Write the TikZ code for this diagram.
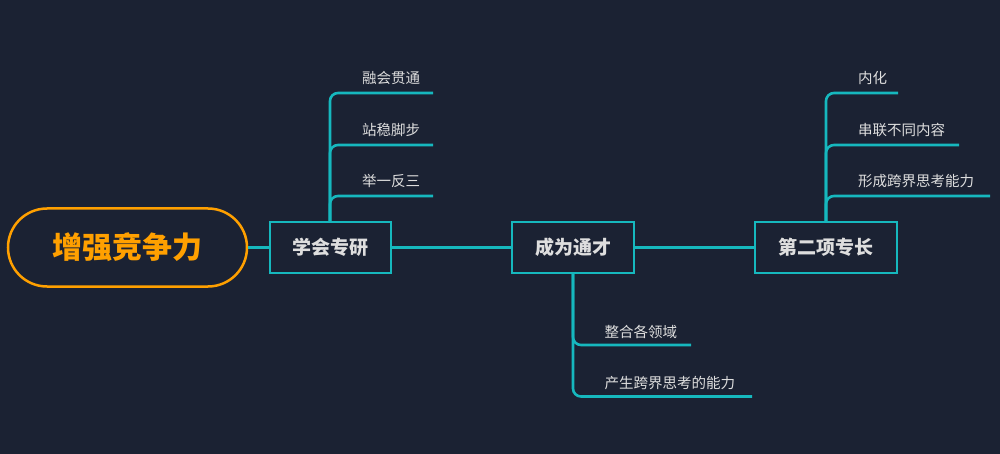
\documentclass[tikz,border=0pt]{standalone}
\usepackage{fontspec}
\newfontfamily\cjk{Noto Sans CJK SC}
\definecolor{bg}{RGB}{27,34,51}
\definecolor{teal}{RGB}{22,184,190}
\definecolor{orng}{RGB}{255,160,0}
\definecolor{txt}{RGB}{222,222,222}
\tikzset{
  root/.style={draw=orng, line width=2.5pt, rounded corners=39pt, minimum width=239pt, minimum height=78pt, text=orng, font=\cjk\fontsize{30}{30}\selectfont\bfseries, inner sep=0pt},
  topic/.style={draw=teal, line width=2pt, minimum height=51pt, text=txt, font=\cjk\fontsize{19}{19}\selectfont\bfseries, inner sep=0pt},
  leaf/.style={text=txt, font=\cjk\fontsize{14.5}{14.5}\selectfont, inner sep=0pt, anchor=base west},
  conn/.style={teal, line width=2.6pt},
  branch/.style={teal, line width=2.6pt, rounded corners=8pt},
}
\begin{document}
\begin{tikzpicture}[x=1pt,y=-1pt]
\useasboundingbox (0,0) rectangle (1000,454);
\fill[bg] (0,0) rectangle (1000,454);
% main nodes
\node[root] (root) at (127.5,247.5) {增强竞争力};
\node[topic, minimum width=121pt] (b1) at (330,247.5) {学会专研};
\node[topic, minimum width=122pt] (b2) at (573,247.5) {成为通才};
\node[topic, minimum width=142pt] (b3) at (826,247.5) {第二项专长};
\draw[conn] (root.east) -- (b1.west);
\draw[conn] (b1.east) -- (b2.west);
\draw[conn] (b2.east) -- (b3.west);
% branch end points
\coordinate (e11) at (433,93);
\coordinate (e12) at (433,145);
\coordinate (e13) at (433,196);
\coordinate (e31) at (898,93);
\coordinate (e32) at (959,145);
\coordinate (e33) at (990,196);
\coordinate (e21) at (691,345);
\coordinate (e22) at (752,396.5);
% branches of b1
\draw[branch] (b1.north) |- (e11);
\draw[branch] (b1.north) |- (e12);
\draw[branch] (b1.north) |- (e13);
\node[leaf] (l11) at (362,84) {融会贯通};
\node[leaf] (l12) at (362,135.5) {站稳脚步};
\node[leaf] (l13) at (362,187) {举一反三};
% branches of b3
\draw[branch] (b3.north) |- (e31);
\draw[branch] (b3.north) |- (e32);
\draw[branch] (b3.north) |- (e33);
\node[leaf] (l31) at (858,84) {内化};
\node[leaf] (l32) at (858,135.5) {串联不同内容};
\node[leaf] (l33) at (858,187) {形成跨界思考能力};
% branches of b2
\draw[branch] (b2.south) |- (e21);
\draw[branch] (b2.south) |- (e22);
\node[leaf] (l21) at (604.5,337) {整合各领域};
\node[leaf] (l22) at (604.5,388.5) {产生跨界思考的能力};
\end{tikzpicture}
\end{document}
